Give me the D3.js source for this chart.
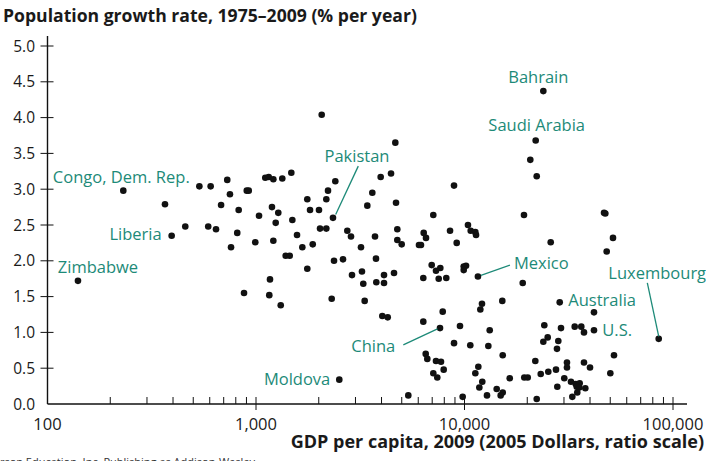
<!DOCTYPE html>
<html><head><meta charset="utf-8">
<script src="https://cdn.jsdelivr.net/npm/d3@7"></script>
<style>
html,body{margin:0;padding:0;background:#fff;}
svg{display:block;font-family:"Open Sans",sans-serif;}
</style></head>
<body><svg id="c" width="706" height="461"></svg>
<script>
// GDP per capita, 2009 (2005 dollars)
const gdp = [231,366,535,606,728,750,680,826,903,923,1108,1151,1211,1337,1477,1193,1279,1034,1243,1494,
394,458,590,643,813,759,992,1211,1573,1388,1451,1668,1871,1762,1816,2005,2174,2215,2401,2028,
2174,2340,1762,2367,2614,2741,2855,3963,4442,3613,3419,4694,4762,4762,3188,3722,3763,2887,3223,3270,
3776,4111,4111,4591,140,876,1167,1158,1314,2307,3321,4035,4283,2509,2066,4658,8907,7086,4998,6373,
6537,6050,6185,8524,9175,10390,10710,11270,11360,6961,7656,7300,6345,7522,8177,9913,10170,9913,11600,15180,
12130,11910,7862,7630,6345,9515,13210,8907,10660,13010,15250,6516,6632,7300,7715,7947,7086,7405,11650,11270,
12170,16480,11780,14270,15250,14910,12820,9800,5376,23880,21950,20680,22200,19290,46690,47360,51550,48080,25910,19020,
28620,41790,41790,33770,36320,37420,29030,24140,25060,23880,28180,27770,85410,52120,21860,19350,20100,23210,25230,27470,
31010,31010,37420,39990,50050,30100,32410,34150,35680,34530,35530,37970,27870,34750,22200,32890];
// Population growth rate, 1975-2009 (% per year)
const growth = [2.98,2.79,3.04,3.04,3.13,2.93,2.78,2.71,2.98,2.98,3.16,3.17,3.14,3.15,3.23,2.75,2.67,2.63,2.53,2.57,
2.35,2.48,2.48,2.44,2.39,2.19,2.26,2.28,2.36,2.07,2.07,2.19,2.23,2.86,2.71,2.71,2.86,2.98,3.11,2.45,
2.45,2.60,1.89,2.00,2.02,2.42,2.34,3.17,3.22,2.95,2.77,2.81,2.44,2.29,2.19,2.34,2.03,1.80,1.85,1.68,
1.70,1.80,1.69,1.83,1.72,1.55,1.74,1.52,1.38,1.47,1.44,1.23,1.21,0.34,4.04,3.65,3.05,2.64,2.23,2.39,
2.32,2.22,2.22,2.42,2.25,2.50,2.42,2.40,2.36,1.94,1.90,1.86,1.76,1.75,1.76,1.92,1.93,1.87,1.78,1.44,
1.40,1.32,1.29,1.06,1.15,1.09,1.03,0.85,0.82,0.81,0.68,0.70,0.63,0.60,0.59,0.48,0.43,0.37,0.52,0.43,
0.31,0.36,0.23,0.21,0.16,0.12,0.12,0.10,0.12,4.37,3.68,3.41,3.18,2.64,2.67,2.66,2.32,2.13,2.26,1.69,
1.42,1.28,1.03,1.08,1.08,1.00,1.06,1.10,0.93,0.87,0.88,0.77,0.91,0.68,0.60,0.37,0.37,0.42,0.45,0.48,
0.58,0.51,0.58,0.51,0.43,0.36,0.31,0.28,0.29,0.24,0.23,0.22,0.24,0.16,0.07,0.10];

// Labelled countries and their values
const labelNames  = ["Congo, Dem. Rep.","Liberia","Zimbabwe","Pakistan","Moldova","China","Mexico","Bahrain","Saudi Arabia","Australia","U.S.","Luxembourg"];
const labelGdp    = [231,394,140,2340,2509,7630,11600,23880,21950,28620,41790,85410];
const labelGrowth = [2.98,2.35,1.72,2.60,0.34,1.06,1.78,4.37,3.68,1.42,1.03,0.91];

const xTickValues = [100,1000,10000,100000];
const yTickValues = [0,0.5,1,1.5,2,2.5,3,3.5,4,4.5,5];

const title = "Population growth rate, 1975\u20132009 (% per year)";
const xTitle = "GDP per capita, 2009 (2005 Dollars, ratio scale)";
const credit = "Copyright \u00a9 2011 Pearson Education, Inc. Publishing as Addison-Wesley";

// layout for annotations (pixel offsets from the point)
const labelLayout = {
  "Congo, Dem. Rep.": {anchor:"middle", dx:-2,  dy:-7.5},
  "Liberia":          {anchor:"end",    dx:-10, dy:3.8},
  "Zimbabwe":         {anchor:"middle", dx:20,  dy:-8.3},
  "Pakistan":         {anchor:"middle", dx:24,  dy:-56, line:[[2.7,-3.4],[25.3,-51.7]]},
  "Moldova":          {anchor:"end",    dx:-9,  dy:5},
  "China":            {anchor:"end",    dx:-44.7, dy:24, line:[[-36.7,16.7],[-2.5,0.8]]},
  "Mexico":           {anchor:"start",  dx:36,  dy:-7.4, line:[[3,-1.2],[32,-11.4]]},
  "Bahrain":          {anchor:"middle", dx:-5,  dy:-7.7},
  "Saudi Arabia":     {anchor:"middle", dx:1,   dy:-9.6},
  "Australia":        {anchor:"start",  dx:8.6, dy:4},
  "U.S.":             {anchor:"start",  dx:8.3, dy:5.3},
  "Luxembourg":       {anchor:"middle", dx:-1.5,dy:-59.4, line:[[-11.4,-56],[0,-2.5]]}
};

const teal = "#1d8a78";
const svg = d3.select("#c");
const x = d3.scaleLog().domain([100,100000]).range([47.5,673]);
const y = d3.scaleLinear().domain([0,5]).range([404,46]);

// title
svg.append("text").attr("x",3).attr("y",22).attr("font-size",17.6).attr("font-weight",700)
  .attr("fill","#1a1a1a").text(title);

// axes lines
const ax = svg.append("g").attr("stroke","#111").attr("stroke-width",1.4).attr("fill","none");
ax.append("line").attr("x1",x(100)).attr("x2",687).attr("y1",y(0)).attr("y2",y(0));
ax.append("line").attr("x1",x(100)).attr("x2",x(100)).attr("y1",36).attr("y2",y(0));

// y ticks (cross the axis)
yTickValues.filter(v=>v>0).forEach(v=>{
  ax.append("line").attr("x1",x(100)-7).attr("x2",x(100)+6).attr("y1",y(v)).attr("y2",y(v)).attr("stroke-width",1);
});
svg.append("g").selectAll("text").data(yTickValues).join("text")
  .attr("x",35).attr("y",d=>y(d)+5.5).attr("text-anchor","end").attr("font-size",15.5).attr("fill","#1a1a1a")
  .text(d=>d3.format(".1f")(d));

// x ticks: minor (inside) and major (crossing)
const minors = [];
[100,1000,10000].forEach(b=>{for(let k=2;k<=9;k++) minors.push(b*k);});
minors.forEach(v=>{
  ax.append("line").attr("x1",x(v)).attr("x2",x(v)).attr("y1",y(0)-7).attr("y2",y(0)).attr("stroke-width",1);
});
xTickValues.filter(v=>v>100).forEach(v=>{
  ax.append("line").attr("x1",x(v)).attr("x2",x(v)).attr("y1",y(0)-7).attr("y2",y(0)+6).attr("stroke-width",1);
});
svg.append("g").selectAll("text").data(xTickValues).join("text")
  .attr("x",d=>x(d)).attr("y",430).attr("text-anchor","middle").attr("font-size",16.5).attr("fill","#1a1a1a")
  .text(d=>d3.format(",")(d));

// x title
svg.append("text").attr("x",704).attr("y",448).attr("text-anchor","end").attr("font-size",18).attr("font-weight",700)
  .attr("fill","#1a1a1a").text(xTitle);
svg.append("text").attr("x",255).attr("y",466).attr("text-anchor","end").attr("font-size",11)
  .attr("fill","#333").text(credit);

// points
const pts = gdp.map((g,i)=>({g, r:growth[i]}));
svg.append("g").selectAll("circle").data(pts).join("circle")
  .attr("cx",d=>x(d.g)).attr("cy",d=>y(d.r)).attr("r",3.3).attr("fill","#111");

// labels
const lab = svg.append("g");
labelNames.forEach((n,i)=>{
  const px = x(labelGdp[i]), py = y(labelGrowth[i]);
  const L = labelLayout[n];
  lab.append("text").attr("x",px+L.dx).attr("y",py+L.dy).attr("text-anchor",L.anchor)
    .attr("font-size",16.5).attr("fill",teal).text(n);
  if (L.line) {
    lab.append("line").attr("x1",px+L.line[0][0]).attr("y1",py+L.line[0][1])
      .attr("x2",px+L.line[1][0]).attr("y2",py+L.line[1][1]).attr("stroke",teal).attr("stroke-width",1.3);
  }
});
</script></body></html>
